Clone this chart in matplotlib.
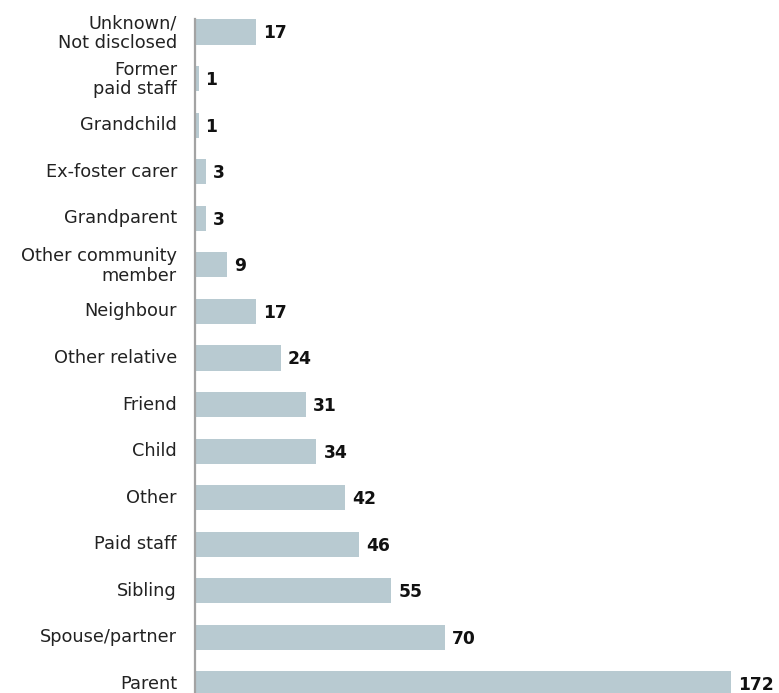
import matplotlib
matplotlib.use("Agg")
import matplotlib.pyplot as plt
import matplotlib.transforms as mtransforms

# Relationship of the person to the individual, counts per category
categories = [
    "Parent", "Spouse/partner", "Sibling", "Paid staff", "Other", "Child",
    "Friend", "Other relative", "Neighbour", "Other community\nmember",
    "Grandparent", "Ex-foster carer", "Grandchild", "Former\npaid staff",
    "Unknown/\nNot disclosed",
]
counts = [172, 70, 55, 46, 42, 34, 31, 24, 17, 9, 3, 3, 1, 1, 17]

BAR_COLOR = "#b8cad1"
AXIS_COLOR = "#a3a3a3"
X_MAX = 150  # longest bar is cut at the plot edge

plt.rcParams["font.family"] = ["DejaVu Sans"]

fig = plt.figure(figsize=(7.79, 6.93), dpi=100)
ax = fig.add_axes([0.2503, -0.0206, 0.688, 1.008])

ypos = list(range(len(categories)))
bar_h = 0.54
bars = ax.barh(ypos, counts, height=bar_h, color=BAR_COLOR, zorder=2)
for b in bars:
    b.set_clip_on(True)

for y, v in zip(ypos, counts):
    ax.annotate(str(v), xy=(min(v, X_MAX), y), xytext=(5, -1),
                textcoords="offset points", ha="left", va="center",
                fontsize=12.3, fontweight="bold", color="#111111",
                annotation_clip=False)

ax.set_xlim(0, X_MAX)
ax.set_ylim(-0.5, len(categories) - 0.5)
ax.set_yticks(ypos)
ax.set_yticklabels(categories, fontsize=12.8, color="#222222",
                   linespacing=1.12)
ax.tick_params(axis="y", length=0, pad=13)
ax.set_xticks([])

# lift the category labels slightly so they sit level with the bars
lift = mtransforms.ScaledTranslation(0, 2 / 100, fig.dpi_scale_trans)
for lbl in ax.get_yticklabels():
    lbl.set_transform(lbl.get_transform() + lift)

for side in ("top", "right", "bottom"):
    ax.spines[side].set_visible(False)
ax.spines["left"].set_color(AXIS_COLOR)
ax.spines["left"].set_linewidth(1.6)
ax.spines["left"].set_bounds(-0.5, len(categories) - 1 + bar_h / 2)

fig.savefig("out.png", dpi=100)
